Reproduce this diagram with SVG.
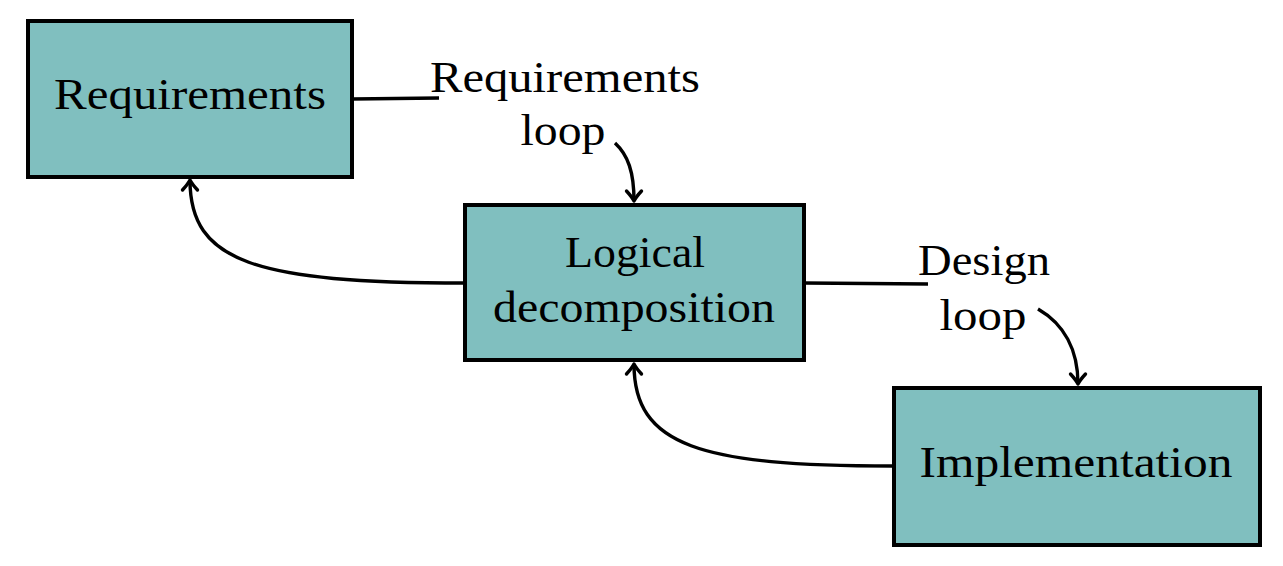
<svg xmlns="http://www.w3.org/2000/svg" width="1283" height="566" viewBox="0 0 1283 566">
<style>
.box{fill:#80bfbf;stroke:#000;stroke-width:4}
.t{font-family:"Liberation Serif","DejaVu Serif",serif;font-size:45px;fill:#000;text-anchor:middle}
.c{fill:none;stroke:#000;stroke-width:3.4}
</style>
<defs>
<marker id="ah" markerUnits="userSpaceOnUse" markerWidth="22" markerHeight="22" viewBox="-12 -11 14 22" refX="0" refY="0" orient="auto">
<path d="M-10,-7.5 Q-4,-2 0,0 Q-4,2 -10,7.5" fill="none" stroke="#000" stroke-width="3.4" stroke-linecap="round" stroke-linejoin="round"/>
</marker>
</defs>
<rect width="1283" height="566" fill="#fff"/>
<g id="connectors">
<path class="c" d="M352,99 L439,98"/>
<path class="c" d="M615,143 C628,155 634,172 634,201" marker-end="url(#ah)"/>
<path class="c" d="M804,283 L928,284"/>
<path class="c" d="M1038,309 C1064,324 1078,350 1078,384" marker-end="url(#ah)"/>
<path class="c" d="M465,283 C255,283 190,262 190,180" marker-end="url(#ah)"/>
<path class="c" d="M893,466 C700,466 634,446 634,364" marker-end="url(#ah)"/>
</g>
<g id="requirements">
<rect class="box" x="28" y="21" width="324" height="156"/>
<text class="t" x="190" y="109" textLength="272" lengthAdjust="spacingAndGlyphs">Requirements</text>
</g>
<g id="logical">
<rect class="box" x="465" y="205" width="339" height="155"/>
<text class="t" x="635" y="267" textLength="140" lengthAdjust="spacingAndGlyphs">Logical</text>
<text class="t" x="634" y="322" textLength="282" lengthAdjust="spacingAndGlyphs">decomposition</text>
</g>
<g id="implementation">
<rect class="box" x="894" y="388" width="366" height="157"/>
<text class="t" x="1076" y="477" textLength="313" lengthAdjust="spacingAndGlyphs">Implementation</text>
</g>
<g id="labels">
<text class="t" x="565" y="92" textLength="270" lengthAdjust="spacingAndGlyphs">Requirements</text>
<text class="t" x="563" y="145" textLength="85" lengthAdjust="spacingAndGlyphs">loop</text>
<text class="t" x="984" y="275" textLength="132" lengthAdjust="spacingAndGlyphs">Design</text>
<text class="t" x="983" y="330" textLength="87" lengthAdjust="spacingAndGlyphs">loop</text>
</g>
</svg>
